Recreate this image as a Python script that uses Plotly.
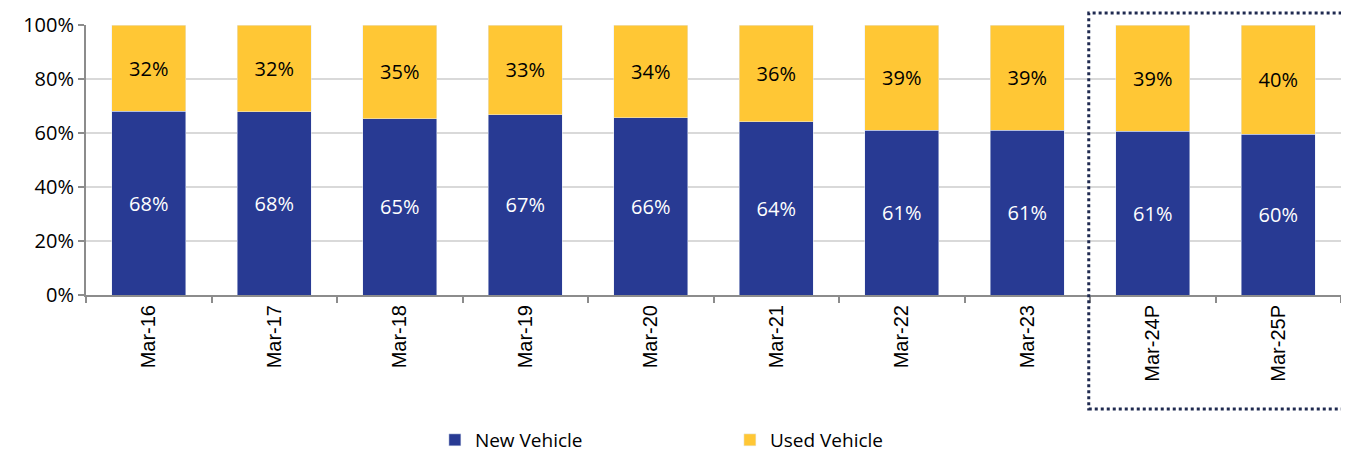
import plotly.graph_objects as go

categories = ["Mar-16", "Mar-17", "Mar-18", "Mar-19", "Mar-20", "Mar-21", "Mar-22", "Mar-23", "Mar-24P", "Mar-25P"]
new_vehicle = [68.1, 67.8, 65.2, 66.7, 65.6, 64.1, 61.1, 61.1, 60.6, 59.5]
used_vehicle = [round(100 - v, 1) for v in new_vehicle]
new_labels = ["68%", "68%", "65%", "67%", "66%", "64%", "61%", "61%", "61%", "60%"]
used_labels = ["32%", "32%", "35%", "33%", "34%", "36%", "39%", "39%", "39%", "40%"]
y_ticks = [0, 20, 40, 60, 80, 100]
y_tick_labels = ["0%", "20%", "40%", "60%", "80%", "100%"]

BLUE = "#283A93"
YELLOW = "#FFC735"
LABEL_FONT = "Open Sans, Noto Sans, sans-serif"

fig = go.Figure()
fig.add_trace(go.Bar(
    x=categories, y=new_vehicle, name="New Vehicle", marker_color=BLUE,
    text=new_labels, textposition="inside", insidetextanchor="middle",
    textfont=dict(color="white", size=20, family=LABEL_FONT),
))
fig.add_trace(go.Bar(
    x=categories, y=used_vehicle, name="Used Vehicle", marker_color=YELLOW,
    text=used_labels, textposition="inside", insidetextanchor="middle",
    textfont=dict(color="black", size=20, family=LABEL_FONT),
))

fig.add_shape(
    type="rect", xref="x", yref="paper",
    x0=7.49, x1=9.55, y0=-0.422, y1=1.044,
    line=dict(color="#1F2A50", width=3, dash="dot"),
    fillcolor="rgba(0,0,0,0)",
)

fig.update_layout(
    barmode="stack",
    bargap=0.41,
    width=1349, height=454,
    margin=dict(l=78, r=16, t=17, b=167, autoexpand=False),
    plot_bgcolor="white", paper_bgcolor="white",
    showlegend=True,
    legend=dict(
        orientation="h", x=0.278, xanchor="left", y=-0.537, yanchor="middle",
        font=dict(size=19, family=LABEL_FONT, color="black"),
        entrywidth=250, entrywidthmode="pixels",
        traceorder="normal",
    ),
)
fig.update_xaxes(
    range=[-0.5, 9.5], tickangle=-90, automargin=False,
    tickfont=dict(size=20, family="Liberation Sans, Arial, sans-serif", color="black"),
    showline=True, linecolor="#8C8C8C", linewidth=2,
    ticks="outside", tickson="boundaries", ticklen=6, tickcolor="#8C8C8C", tickwidth=2,
    showgrid=False,
)
fig.update_yaxes(
    range=[0, 100], tickvals=y_ticks, ticktext=y_tick_labels, automargin=False,
    tickfont=dict(size=20, family=LABEL_FONT, color="black"),
    showline=True, linecolor="#8C8C8C", linewidth=2,
    ticks="outside", ticklen=6, tickcolor="#8C8C8C", tickwidth=2,
    showgrid=True, gridcolor="#D9D9D9", gridwidth=1.5,
    zeroline=False,
)

fig.write_html("out.html")
